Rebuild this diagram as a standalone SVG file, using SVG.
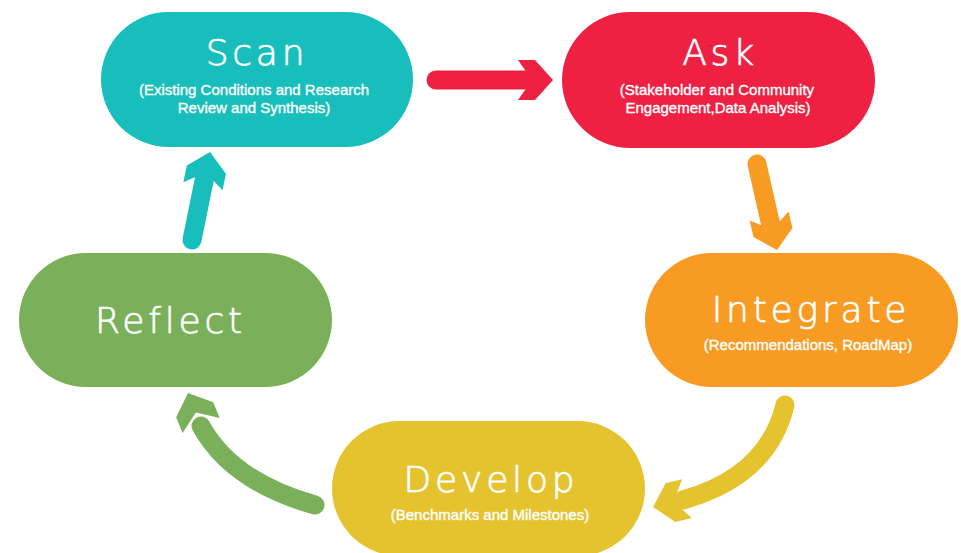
<svg xmlns="http://www.w3.org/2000/svg" width="961" height="553" viewBox="0 0 961 553">
<defs>
<style>
.t{font-family:"DejaVu Sans","Liberation Sans",sans-serif;font-weight:200;font-size:36px;fill:#fff;stroke:#fff;stroke-width:0.7;text-anchor:middle;letter-spacing:3.8px}
.s{font-family:"Liberation Sans",Arial,sans-serif;font-size:15px;fill:#fff;stroke:#fff;stroke-width:0.35;text-anchor:middle}
.sh{fill:none;stroke-width:19;stroke-linecap:round}
</style>
<polygon id="hd" points="-35,-20 -18,-20 0,0 -18,20 -35,20 -21,0"/>
</defs>
<rect width="961" height="553" fill="#fff"/>
<g id="connectors">
<g id="c-scan-ask" fill="#EF2143" stroke="#EF2143">
<path class="sh" d="M436,80 L532,80"/>
<use href="#hd" stroke="none" transform="translate(553,80)"/>
</g>
<g id="c-ask-integrate" fill="#F79B23" stroke="#F79B23">
<path class="sh" d="M757,164 L771,226"/>
<use href="#hd" stroke="none" transform="translate(777,250) rotate(77)"/>
</g>
<g id="c-integrate-develop" fill="#E5C32E" stroke="#E5C32E">
<path class="sh" d="M785,405 Q768,476 683,500"/>
<use href="#hd" stroke="none" transform="translate(653,507) rotate(166)"/>
</g>
<g id="c-develop-reflect" fill="#7AB05A" stroke="#7AB05A">
<path class="sh" d="M315,505 Q232,482 201,426"/>
<use href="#hd" stroke="none" transform="translate(188,393) rotate(-112)"/>
</g>
<g id="c-reflect-scan" fill="#17BEBB" stroke="#17BEBB">
<path class="sh" d="M192,240 L205,176"/>
<use href="#hd" stroke="none" transform="translate(210,152) rotate(-78.4)"/>
</g>
</g>
<g id="scan">
<rect x="101" y="12" width="312" height="135" rx="67.5" fill="#17BEBB"/>
<text class="t" x="257" y="65">Scan</text>
<text class="s" x="254" y="95">(Existing Conditions and Research</text>
<text class="s" x="254" y="113">Review and Synthesis)</text>
</g>
<g id="ask">
<rect x="562" y="12" width="313" height="136" rx="68" fill="#EF2143"/>
<text class="t" x="720" y="65">Ask</text>
<text class="s" x="717" y="95">(Stakeholder and Community</text>
<text class="s" x="718" y="113">Engagement,Data Analysis)</text>
</g>
<g id="integrate">
<rect x="645" y="253" width="313" height="134" rx="67" fill="#F79B23"/>
<text class="t" x="811" y="322">Integrate</text>
<text class="s" x="808" y="350">(Recommendations, RoadMap)</text>
</g>
<g id="reflect">
<rect x="19" y="253" width="313" height="134" rx="67" fill="#7AB05A"/>
<text class="t" x="170.5" y="333">Reflect</text>
</g>
<g id="develop">
<rect x="332" y="421" width="313" height="135" rx="67.5" fill="#E5C32E"/>
<text class="t" x="491" y="492">Develop</text>
<text class="s" x="490" y="520">(Benchmarks and Milestones)</text>
</g>
</svg>
